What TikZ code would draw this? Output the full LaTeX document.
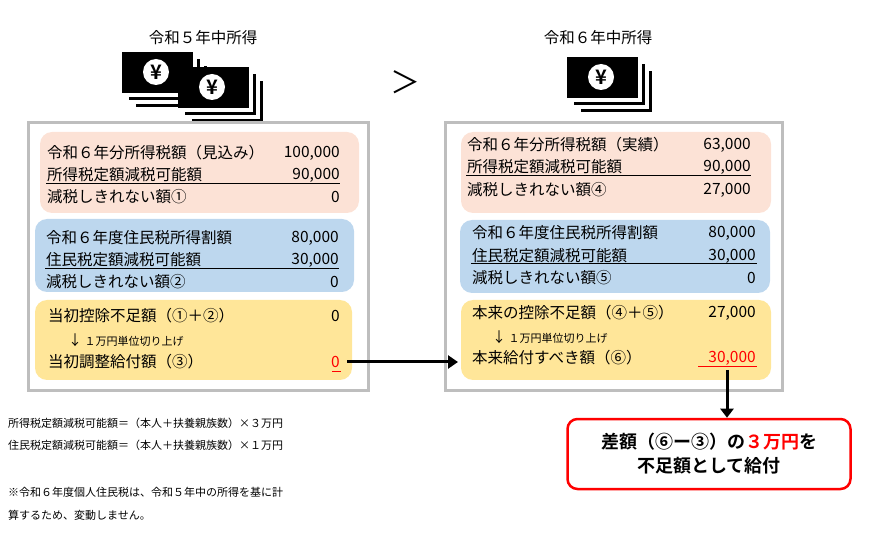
\documentclass[tikz,border=0pt]{standalone}
\usepackage{fontspec}
\setmainfont{Noto Sans CJK JP}
\newfontfamily\jpbold[BoldFont={Noto Sans CJK JP Bold}]{Noto Sans CJK JP}
\usetikzlibrary{positioning, arrows.meta}

\definecolor{pinkbg}{RGB}{252,226,214}
\definecolor{bluebg}{RGB}{189,215,238}
\definecolor{yellowbg}{RGB}{255,230,153}
\definecolor{framegray}{RGB}{190,190,190}
\definecolor{alertred}{RGB}{255,0,0}

\tikzset{
  lbl/.style = {anchor=west, inner sep=0pt, font=\fontsize{15.5}{17}\selectfont},
  val/.style = {anchor=east, inner sep=0pt, font=\fontsize{15.5}{17}\selectfont},
  small/.style = {anchor=west, inner sep=0pt, font=\fontsize{11}{12}\selectfont},
  note/.style = {anchor=west, inner sep=0pt, font=\fontsize{11}{13}\selectfont},
  title/.style = {inner sep=0pt, font=\fontsize{15.5}{17}\selectfont},
  frame/.style = {draw=framegray, line width=3pt},
  panel/.style = {rounded corners=12pt},
}

% one stack of bank notes, front note with its corner at (#1,#2)
\newcommand{\yenstack}[2]{%
  \fill[black] (#1+14,#2+14) rectangle (#1+85,#2+55);
  \fill[white] (#1+11,#2+11) rectangle (#1+82,#2+52);
  \fill[black] (#1+7,#2+7) rectangle (#1+78,#2+48);
  \fill[white] (#1+4,#2+4) rectangle (#1+75,#2+45);
  \fill[black] (#1,#2) rectangle (#1+71,#2+41);
  \fill[white] (#1+34,#2+20) circle (13);
  \node[inner sep=0pt, font=\jpbold\bfseries\fontsize{20}{20}\selectfont] at (#1+34,#2+20) {¥};
}

\begin{document}
\begin{tikzpicture}[x=1pt, y=-1pt]
  \useasboundingbox (0,0) rectangle (876,537);

  % titles and icons
  \node[title] (t5) at (203,38) {令和５年中所得};
  \node[title] (t6) at (598,38) {令和６年中所得};
  \node[inner sep=0pt, font=\fontsize{30}{30}\selectfont] (gt) at (405,82) {＞};
  \yenstack{122}{52}
  \yenstack{178}{67}
  \yenstack{567}{57}

  % left side
  \draw[frame] (28,123) rectangle (368,391);
  \fill[pinkbg, panel] (40,132) rectangle (359,213);
  \fill[bluebg, panel] (35,219) rectangle (354,292);
  \fill[yellowbg, panel] (35,300) rectangle (352,380);

  \node[lbl] (a1) at (47,153) {令和６年分所得税額（見込み）};
  \node[val] (a1v) at (340,153) {100,000};
  \node[lbl] (a2) at (47,175) {所得税定額減税可能額};
  \node[val] (a2v) at (340,175) {90,000};
  \node[lbl] (a3) at (47,197) {減税しきれない額①};
  \node[val] (a3v) at (340,197) {0};
  \draw (46,183) -- (340,183);

  \node[lbl] (b1) at (46,238) {令和６年度住民税所得割額};
  \node[val] (b1v) at (339,238) {80,000};
  \node[lbl] (b2) at (46,260) {住民税定額減税可能額};
  \node[val] (b2v) at (339,260) {30,000};
  \node[lbl] (b3) at (46,282) {減税しきれない額②};
  \node[val] (b3v) at (339,282) {0};
  \draw (45,268) -- (339,268);

  \node[lbl] (c1) at (48,316) {当初控除不足額（①＋②）};
  \node[val] (c1v) at (340,316) {0};
  \node[small] (c2) at (68,340) {\fontsize{14}{14}\selectfont↓\fontsize{11}{12}\selectfont\ １万円単位切り上げ};
  \node[lbl] (c3) at (48,362) {当初調整給付額（③）};
  \node[val, text=alertred] (c3v) at (340,362) {0};
  \draw[alertred] (332,371) -- (341,371);

  % right side
  \draw[frame] (445,123) rectangle (782,391);
  \fill[pinkbg, panel] (461,132) rectangle (771,213);
  \fill[bluebg, panel] (460,220) rectangle (770,293);
  \fill[yellowbg, panel] (461,300) rectangle (771,380);

  \node[lbl] (d1) at (467,145) {令和６年分所得税額（実績）};
  \node[val] (d1v) at (751,145) {63,000};
  \node[lbl] (d2) at (467,167) {所得税定額減税可能額};
  \node[val] (d2v) at (751,167) {90,000};
  \node[lbl] (d3) at (467,190) {減税しきれない額④};
  \node[val] (d3v) at (751,190) {27,000};
  \draw (466,175) -- (751,175);

  \node[lbl] (e1) at (472,233) {令和６年度住民税所得割額};
  \node[val] (e1v) at (756,233) {80,000};
  \node[lbl] (e2) at (472,256) {住民税定額減税可能額};
  \node[val] (e2v) at (756,256) {30,000};
  \node[lbl] (e3) at (472,278) {減税しきれない額⑤};
  \node[val] (e3v) at (756,278) {0};
  \draw (471,263) -- (757,263);

  \node[lbl] (f1) at (472,313) {本来の控除不足額（④＋⑤）};
  \node[val] (f1v) at (756,313) {27,000};
  \node[small] (f2) at (492,337) {\fontsize{14}{14}\selectfont↓\fontsize{11}{12}\selectfont\ １万円単位切り上げ};
  \node[lbl] (f3) at (472,358) {本来給付すべき額（⑥）};
  \node[val, text=alertred] (f3v) at (756,358) {30,000};
  \draw[alertred] (698,366) -- (757,366);

  % result
  \node[draw=alertred, line width=2.5pt, rounded corners=10pt, minimum width=283pt,
        minimum height=70pt, align=center, font=\jpbold\bfseries\fontsize{18}{24}\selectfont]
        (res) at (709,454) {差額（⑥ー③）の\textcolor{alertred}{３万円}を\\不足額として給付};

  \coordinate (c3out) at (347,362);
  \coordinate (f3in) at (458,362);
  \draw[line width=3pt, -{Triangle[length=10pt, width=13pt]}] (c3out) -- (f3in);
  \coordinate (f3out) at (727,370);
  \draw[line width=3pt, -{Triangle[length=9pt, width=13pt]}] (f3out) -- (res.north -| f3out);

  % notes
  \node[note] (n1) at (8,423) {所得税定額減税可能額＝（本人＋扶養親族数）×３万円};
  \node[note] (n2) at (8,445) {住民税定額減税可能額＝（本人＋扶養親族数）×１万円};
  \node[note] (n3) at (8,492) {※令和６年度個人住民税は、令和５年中の所得を基に計};
  \node[note] (n4) at (8,515) {算するため、変動しません。};
\end{tikzpicture}
\end{document}
